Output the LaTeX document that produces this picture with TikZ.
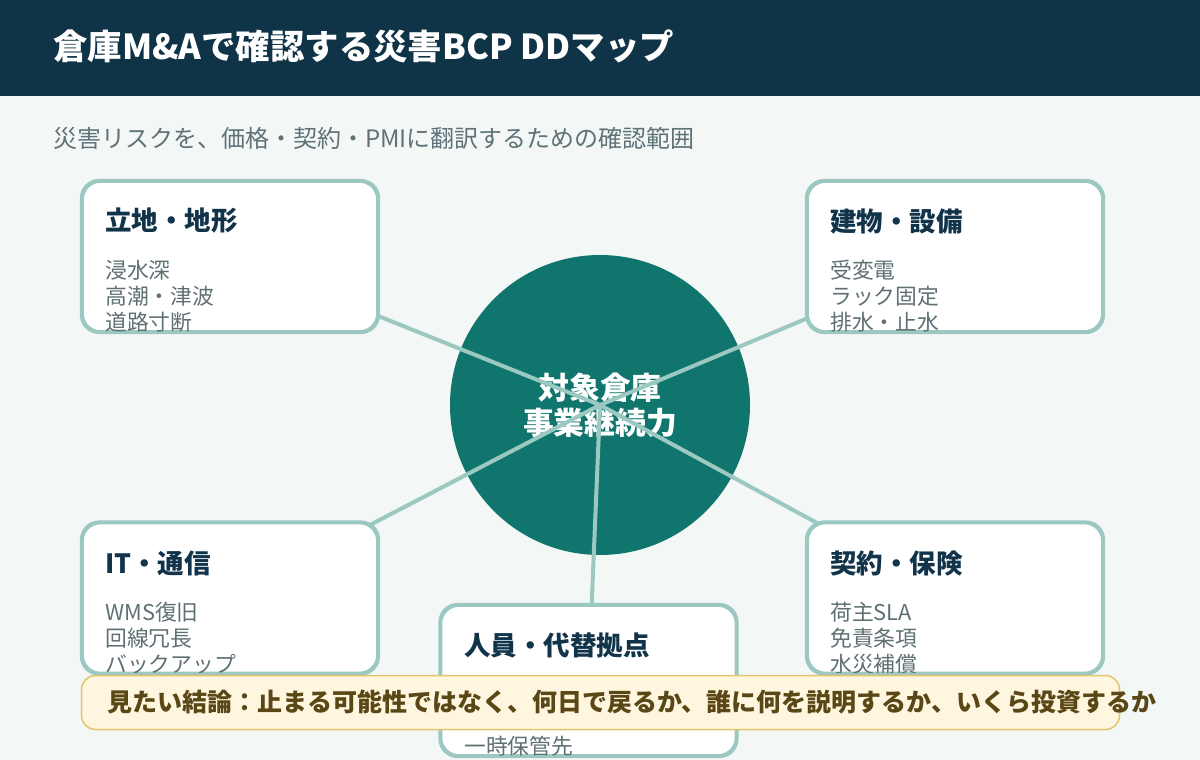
\documentclass[tikz,border=0pt]{standalone}
\usepackage{fontspec}
\setmainfont{Noto Sans CJK JP}
\definecolor{bgc}{HTML}{F3F7F6}
\definecolor{headc}{HTML}{0F3347}
\definecolor{subc}{HTML}{5E7278}
\definecolor{boxline}{HTML}{9CC8C2}
\definecolor{navyc}{HTML}{12344A}
\definecolor{itemc}{HTML}{5F7075}
\definecolor{circc}{HTML}{10766D}
\definecolor{bannerfill}{HTML}{FFF6DF}
\definecolor{bannerline}{HTML}{E2C46B}
\definecolor{bannertext}{HTML}{5A4716}
\pgfdeclarelayer{bgl}
\pgfdeclarelayer{midl}
\pgfsetlayers{bgl,midl,main}
\begin{document}
\begin{tikzpicture}[x=1pt,y=-1pt,
  box/.style={draw=boxline, line width=2.6pt, fill=white, rounded corners=18pt,
    minimum width=295pt, minimum height=150pt, inner sep=0pt},
  btitle/.style={anchor=west, font=\fontsize{26.5}{30}\selectfont\bfseries, text=navyc, inner sep=0pt},
  item/.style={anchor=west, font=\fontsize{21.8}{24}\selectfont, text=itemc, inner sep=0pt},
  link/.style={draw=boxline, line width=4pt}]
\useasboundingbox (0,0) rectangle (1200,760);
\begin{pgfonlayer}{bgl}
\fill[bgc] (0,0) rectangle (1200,760);
\fill[headc] (0,0) rectangle (1200,96);
\node[circle, fill=circc, minimum size=300pt, inner sep=0pt] (c) at (600,405) {};
\node[text=white, font=\fontsize{30.8}{34}\selectfont\bfseries, inner sep=0pt] (c1) at (600,388) {対象倉庫};
\node[text=white, font=\fontsize{30.8}{34}\selectfont\bfseries, inner sep=0pt] (c2) at (600,423) {事業継続力};
\end{pgfonlayer}
\node[anchor=west, text=white, font=\fontsize{34.4}{38}\selectfont\bfseries, inner sep=0pt] (title) at (53,46) {倉庫M\&Aで確認する災害BCP DDマップ};
\node[anchor=west, text=subc, font=\fontsize{24}{27}\selectfont, inner sep=0pt] (sub) at (53,138) {災害リスクを、価格・契約・PMIに翻訳するための確認範囲};
% boxes
\node[box] (tl) at (230,256.5) {};
\node[box] (tr) at (955,256.5) {};
\node[box] (bl) at (230,598) {};
\node[box] (br) at (955,598) {};
\node[box] (bm) at (588.5,680.5) {};
\begin{pgfonlayer}{midl}
\draw[link] (c.center) -- (tl.center);
\draw[link] (c.center) -- (tr.center);
\draw[link] (c.center) -- (bl.center);
\draw[link] (c.center) -- (br.center);
\draw[link] (c.center) -- (bm.center);
\end{pgfonlayer}
% top-left
\node[btitle] (tlt) at (105,221) {立地・地形};
\node[item] (tla) at (105,270) {浸水深};
\node[item] (tlb) at (105,296) {高潮・津波};
\node[item] (tlc) at (105,322) {道路寸断};
% top-right
\node[btitle] (trt) at (830,221) {建物・設備};
\node[item] (tra) at (830,270) {受変電};
\node[item] (trb) at (830,296) {ラック固定};
\node[item] (trc) at (830,322) {排水・止水};
% bottom-left
\node[btitle] (blt) at (105,563) {IT・通信};
\node[item] (bla) at (105,612) {WMS復旧};
\node[item] (blb) at (105,638) {回線冗長};
\node[item] (blc) at (105,664) {バックアップ};
% bottom-right
\node[btitle] (brt) at (830,563) {契約・保険};
\node[item] (bra) at (830,612) {荷主SLA};
\node[item] (brb) at (830,638) {免責条項};
\node[item] (brc) at (830,664) {水災補償};
% bottom-middle
\node[btitle] (bmt) at (464,645) {人員・代替拠点};
\node[item] (bmc) at (464,746) {一時保管先};
% redraw box borders over text
\foreach \b in {tl,tr,bl,br,bm}{
  \draw[boxline, line width=2.6pt, rounded corners=18pt] (\b.south west) rectangle (\b.north east);
}
% banner
\node[draw=bannerline, line width=1.5pt, fill=bannerfill, rounded corners=14pt,
  minimum width=1038pt, minimum height=54pt, inner sep=0pt] (ban) at (600.5,702.5) {};
\node[anchor=west, text=bannertext, font=\fontsize{25}{28}\selectfont\bfseries, inner sep=0pt] (bant) at (107,702) {見たい結論：止まる可能性ではなく、何日で戻るか、誰に何を説明するか、いくら投資するか};
\end{tikzpicture}
\end{document}
